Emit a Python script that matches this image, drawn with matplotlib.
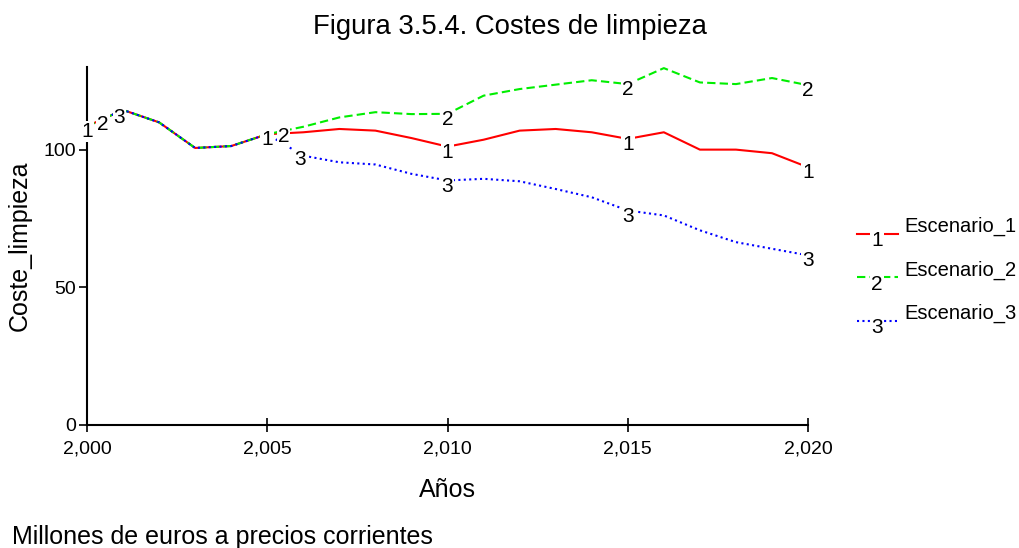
import numpy as np
import matplotlib
matplotlib.use("Agg")
import matplotlib.pyplot as plt
from matplotlib.lines import Line2D
from matplotlib.ticker import FuncFormatter

plt.rcParams['font.family'] = ['Liberation Sans', 'DejaVu Sans']

# datos
anios = np.arange(2000, 2021)
comun = [108.5, 114.4, 109.9, 100.6, 101.3, 105.6]
escenario_1 = comun + [106.3, 107.5, 106.9, 104.2, 101.1, 103.6, 106.9, 107.5,
                       106.3, 103.9, 106.3, 100.0, 100.0, 98.7, 93.6]
escenario_2 = comun + [108.3, 111.7, 113.6, 112.9, 113.0, 119.6, 122.0, 123.6,
                       125.2, 123.8, 129.6, 124.4, 123.8, 126.0, 123.4]
escenario_3 = comun + [97.8, 95.4, 94.6, 91.2, 88.8, 89.4, 88.5, 85.7,
                       82.7, 77.9, 76.1, 70.7, 66.4, 64.0, 61.6]
nombres = ["Escenario_1", "Escenario_2", "Escenario_3"]
marcas = ["1", "2", "3"]
# posiciones de las etiquetas numericas sobre cada curva
pos_etiquetas = [
    [2000, 2005, 2010, 2015, 2020],
    [2000.45, 2005.45, 2010, 2015, 2020],
    [2000.9, 2005.9, 2010, 2015, 2020],
]

colores = ["#ff0000", "#00ee00", "#0000ff"]
estilos = ["-", (0, (4, 2)), (0, (1, 1.6))]

fig = plt.figure(figsize=(10.2, 5.48), dpi=100)
ax = fig.add_axes([0.0853, 0.2245, 0.7069, 0.6532])

series = [escenario_1, escenario_2, escenario_3]
for i, s in enumerate(series):
    ax.plot(anios, s, color=colores[i], ls=estilos[i], lw=1.5, zorder=2 + i)
for i, s in enumerate(series):
    for xp in pos_etiquetas[i]:
        yp = np.interp(xp, anios, s)
        ax.annotate(marcas[i], (xp, yp), xytext=(0, -4), textcoords="offset points",
                    ha="center", va="center", fontsize=15, clip_on=False, zorder=10,
                    bbox=dict(boxstyle="square,pad=0.05", fc="white", ec="none"))

ax.set_xlim(2000, 2020)
ax.set_ylim(0, 130)
ax.set_xticks([2000, 2005, 2010, 2015, 2020])
ax.set_yticks([0, 50, 100])
ax.xaxis.set_major_formatter(FuncFormatter(lambda v, p: "{:,.0f}".format(v)))
for sp in ["top", "right"]:
    ax.spines[sp].set_visible(False)
for sp in ["left", "bottom"]:
    ax.spines[sp].set_linewidth(1.5)
ax.tick_params(axis="x", direction="inout", length=10, width=1.2, labelsize=14, pad=6)
ax.tick_params(axis="y", direction="out", length=6, width=1.2, labelsize=14, pad=2)
ax.set_xlabel("Años", fontsize=18, labelpad=15)
ax.set_ylabel("Coste_limpieza", fontsize=18, labelpad=8)

fig.text(0.5, 1 - 27 / 548, "Figura 3.5.4. Costes de limpieza", ha="center", va="center",
         fontsize=19.8)
fig.text(0.012, 1 - 537 / 548, "Millones de euros a precios corrientes", ha="left",
         va="center", fontsize=18)

# leyenda manual
for i in range(3):
    yl = 1 - (233.5 + 43.5 * i) / 548
    fig.add_artist(Line2D([857 / 1020, 898 / 1020], [yl, yl], color=colores[i],
                          ls=estilos[i], lw=1.5))
    fig.text(877 / 1020, yl - 7 / 548, marcas[i], ha="center", va="center", fontsize=15,
             bbox=dict(boxstyle="square,pad=0.05", fc="white", ec="none"))
    fig.text(904 / 1020, yl + 7 / 548, nombres[i], ha="left", va="center", fontsize=14.5)

fig.savefig("out.png", dpi=100)
